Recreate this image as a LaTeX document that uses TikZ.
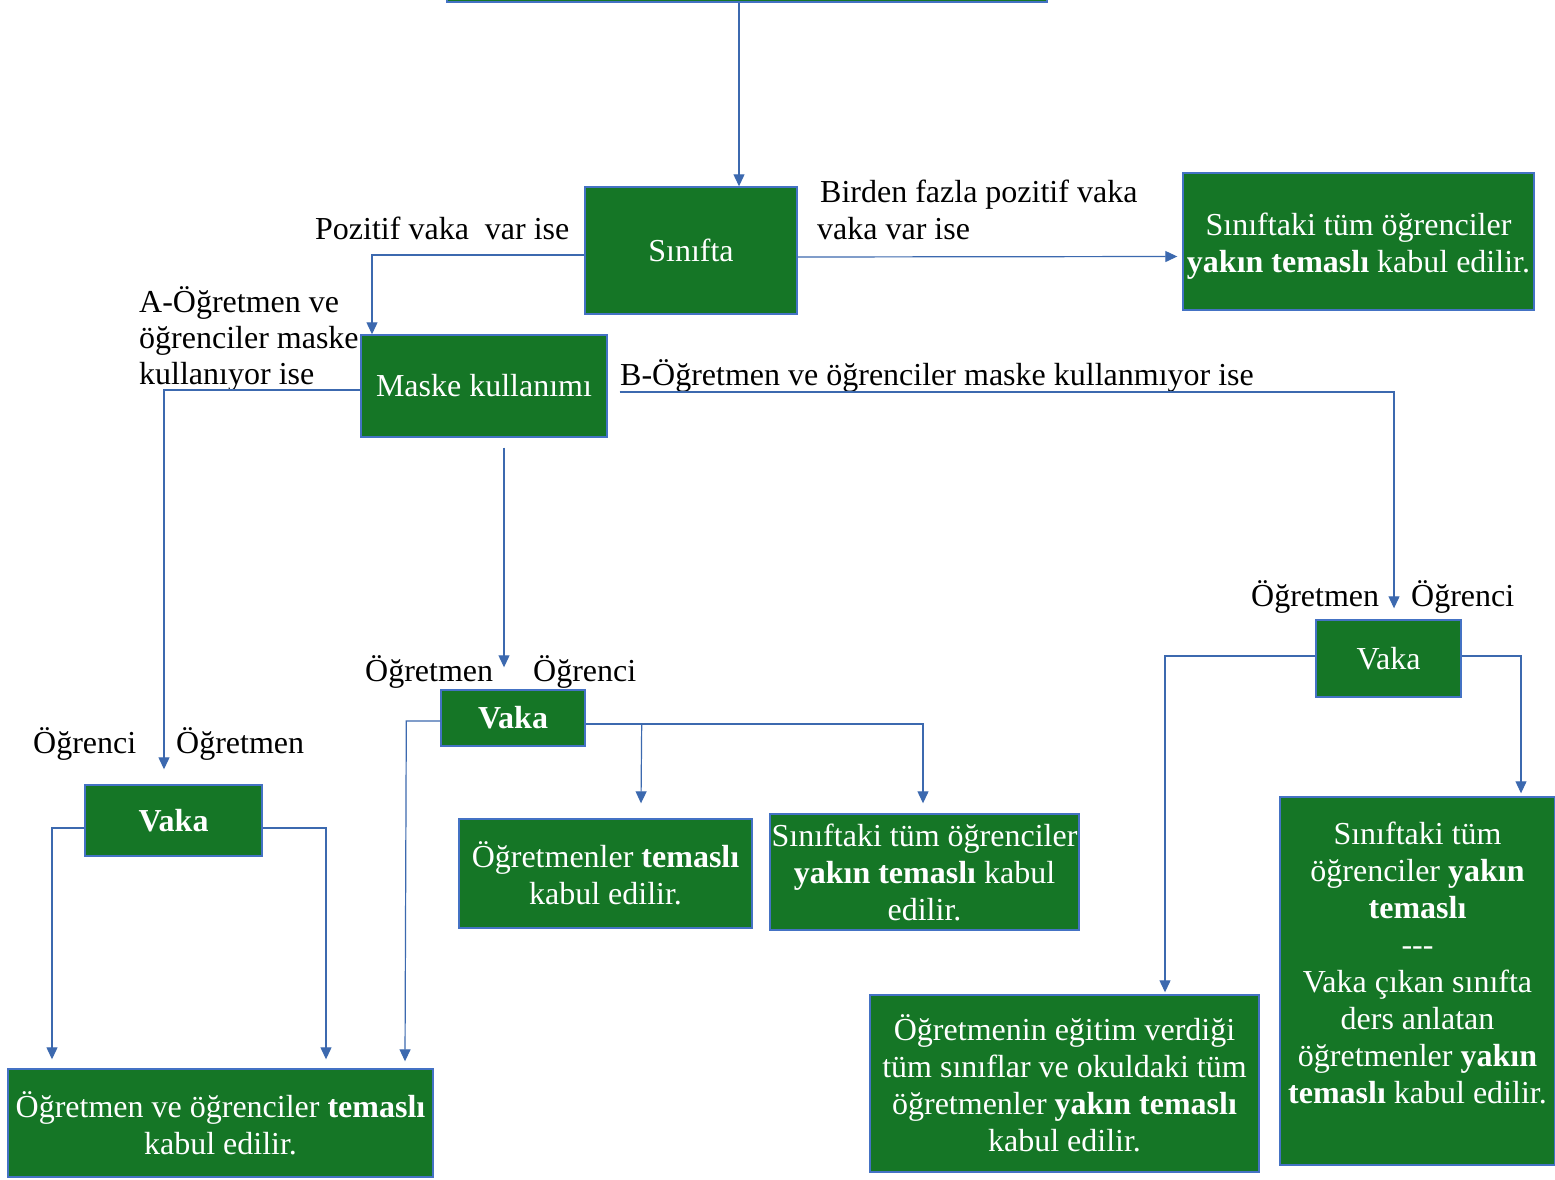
\documentclass[tikz,border=0pt]{standalone}
\usepackage{fontspec}
\setmainfont{Liberation Serif}
\usetikzlibrary{calc,arrows.meta}
\definecolor{boxgreen}{RGB}{21,118,38}
\definecolor{boxedge}{RGB}{68,114,196}
\definecolor{lineblue}{RGB}{60,105,175}
\begin{document}
\begin{tikzpicture}[x=1pt,y=-1pt,
  gbox/.style={draw=boxedge,line width=1.4pt,fill=boxgreen,text=white,inner sep=0pt,
    align=center,font=\fontsize{32}{37}\selectfont},
  wtext/.style={align=center,text=white,inner sep=0pt,font=\fontsize{32}{37}\selectfont},
  lbl/.style={anchor=base west,inner sep=0pt,text=black,font=\fontsize{32}{37}\selectfont},
  arr/.style={draw=lineblue,line width=1.2pt,-{Triangle[length=12pt,width=11pt]}},
  conn/.style={draw=lineblue,line width=1.2pt}]
\useasboundingbox (0,0) rectangle (1555,1180);
\clip (0,0) rectangle (1555,1180);
\fill[white] (0,0) rectangle (1555,1180);

% boxes
\node[gbox,minimum width=600,minimum height=102] (top) at (747,-49) {};
\node[gbox,minimum width=212,minimum height=127] (sinif) at (691,250.5) {Sınıfta};
\node[gbox,minimum width=351,minimum height=137] (rtop) at (1358.5,241.5) {};
\node[wtext] (rtopt) at ($(rtop.center)+(0,5)$)
  {Sınıftaki tüm öğrenciler\\\textbf{yakın temaslı} kabul edilir.};
\node[gbox,minimum width=246,minimum height=102] (maske) at (484,386) {Maske kullanımı};
\node[gbox,minimum width=177,minimum height=71] (vaka1) at (173.5,820.5) {\textbf{Vaka}};
\node[gbox,minimum width=425,minimum height=108] (bl) at (220.5,1123)
  {Öğretmen ve öğrenciler \textbf{temaslı}\\kabul edilir.};
\node[gbox,minimum width=144,minimum height=56] (vaka2) at (513,718) {\textbf{Vaka}};
\node[gbox,minimum width=293,minimum height=109] (ogr) at (605.5,873.5)
  {Öğretmenler \textbf{temaslı}\\kabul edilir.};
\node[gbox,minimum width=309,minimum height=116] (sin2) at (924.5,872)
  {Sınıftaki tüm öğrenciler\\\textbf{yakın temaslı} kabul\\edilir.};
\node[gbox,minimum width=145,minimum height=77] (vaka3) at (1388.5,658.5) {Vaka};
\node[gbox,minimum width=389,minimum height=177] (bm) at (1064.5,1083.5)
  {Öğretmenin eğitim verdiği\\tüm sınıflar ve okuldaki tüm\\öğretmenler \textbf{yakın temaslı}\\kabul edilir.};
\node[gbox,minimum width=275,minimum height=368] (br) at (1417.5,981) {};
\node[wtext] (brt) at ($(br.center)+(0,-18)$)
  {Sınıftaki tüm\\öğrenciler \textbf{yakın}\\\textbf{temaslı}\\-{}-{}-\\Vaka çıkan sınıfta\\ders anlatan\\öğretmenler \textbf{yakın}\\\textbf{temaslı} kabul edilir.};

% labels
\node[lbl] (l1) at (315,239) {Pozitif vaka\ \ var ise};
\node[lbl] (l2) at (820,202) {Birden fazla pozitif vaka};
\node[lbl] (l3) at (817,239) {vaka var ise};
\node[lbl] (l4) at (139,312) {A-Öğretmen ve};
\node[lbl] (l5) at (139,348) {öğrenciler maske};
\node[lbl] (l6) at (139,384) {kullanıyor ise};
\node[lbl] (l7) at (620,385) {B-Öğretmen ve öğrenciler maske kullanmıyor ise};
\node[lbl] (l8) at (33,753) {Öğrenci};
\node[lbl] (l9) at (176,753) {Öğretmen};
\node[lbl] (l10) at (365,681) {Öğretmen};
\node[lbl] (l11) at (533,681) {Öğrenci};
\node[lbl] (l12) at (1251,606) {Öğretmen};
\node[lbl] (l13) at (1411,606) {Öğrenci};

% connectors
\draw[arr] ($(top.south)+(-8,0)$) -- ($(sinif.north)+(48,0)$);
\draw[arr] ($(sinif.east)+(0,6.5)$) -- ($(sinif.east -| rtop.west)+(-5,6)$);
\draw[arr] ($(sinif.west)+(0,4.5)$) -| ($(maske.north)+(-112,0)$);
\draw[arr] ($(maske.west)+(0,4)$) -| ($(vaka1.north)+(-9.5,-15)$);
\draw[arr] ($(vaka1.west)+(0,7.5)$) -| ($(bl.north)+(-168.5,-9)$);
\draw[arr] ($(vaka1.east)+(0,7.5)$) -| ($(bl.north)+(105.5,-9)$);
\draw[arr] ($(maske.south)+(20,10)$) -- ($(vaka2.north)+(-9,-22)$);
\draw[arr] ($(vaka2.west)+(0,3)$) -- ($(vaka2.west)+(-34,3)$) -- ($(bl.north)+(184.5,-7)$);
\draw[arr] ($(vaka2.east)+(0,6)$) -| ($(sin2.north)+(-1.5,-10)$);
\draw[arr] ($(vaka2.east)+(56,6)$) -- ($(ogr.north)+(35.5,-15)$);
\draw[arr] ($(maske.east)+(12,6)$) -| ($(vaka3.north)+(5.5,-11)$);
\draw[arr] ($(vaka3.west)+(0,-2.5)$) -| ($(bm.north)+(100.5,-2)$);
\draw[arr] ($(vaka3.east)+(0,-2.5)$) -| ($(br.north)+(103.5,-3)$);
\end{tikzpicture}
\end{document}
